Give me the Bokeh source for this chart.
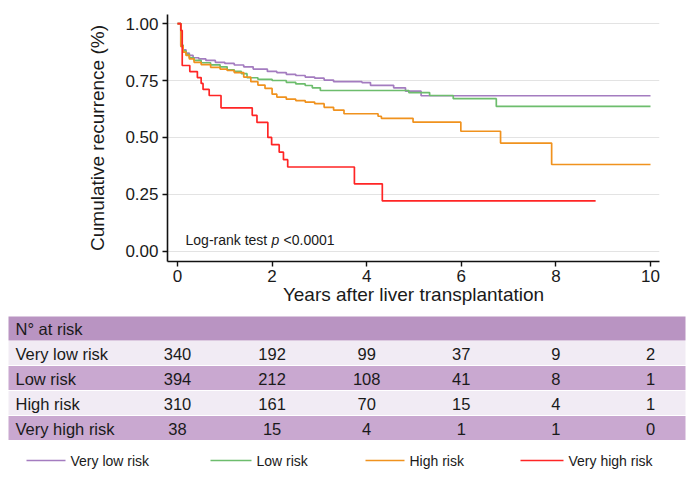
from bokeh.plotting import figure
from bokeh.models import Range1d, FixedTicker, NumeralTickFormatter
from bokeh.embed import file_html
from bokeh.resources import INLINE
from bokeh.core.properties import value

# ---------------- data ----------------
groups = ["Very low risk", "Low risk", "High risk", "Very high risk"]

vlow_t = [0, 0.07, 0.12, 0.18, 0.25, 0.33, 0.45, 0.6, 0.8, 1.0, 1.2, 1.4, 1.6, 1.9, 2.1, 2.3,
          2.5, 2.7, 2.9, 3.1, 3.3, 3.9, 4.08, 4.57, 4.82, 5.15, 10]
vlow_s = [1.0, 0.90, 0.885, 0.87, 0.86, 0.85, 0.845, 0.838, 0.83, 0.825, 0.818, 0.81, 0.80, 0.79,
          0.785, 0.777, 0.772, 0.765, 0.76, 0.752, 0.745, 0.741, 0.729, 0.718, 0.703, 0.683, 0.683]

low_t = [0, 0.07, 0.12, 0.18, 0.25, 0.35, 0.5, 0.7, 0.9, 1.05, 1.2, 1.35, 1.47, 1.7, 2.0, 2.3,
         2.5, 2.7, 2.85, 3.02, 4.89, 5.33, 5.83, 6.74, 10]
low_s = [1.0, 0.905, 0.88, 0.865, 0.85, 0.838, 0.828, 0.819, 0.81, 0.797, 0.79, 0.78, 0.762, 0.755,
         0.75, 0.742, 0.735, 0.728, 0.718, 0.706, 0.697, 0.684, 0.670, 0.636, 0.636]

high_t = [0, 0.07, 0.12, 0.18, 0.25, 0.35, 0.5, 0.7, 0.9, 1.05, 1.2, 1.4, 1.55, 1.7, 1.85, 2.0,
          2.1, 2.3, 2.5, 2.7, 2.9, 3.1, 3.3, 3.52, 4.24, 4.31, 4.98, 5.99, 6.83, 7.91, 10]
high_s = [1.0, 0.90, 0.875, 0.86, 0.845, 0.83, 0.82, 0.808, 0.80, 0.794, 0.785, 0.765, 0.745, 0.73,
          0.715, 0.69, 0.677, 0.668, 0.662, 0.655, 0.648, 0.632, 0.62, 0.604, 0.593, 0.584, 0.567,
          0.527, 0.475, 0.381, 0.381]

vhigh_t = [0, 0.07, 0.1, 0.26, 0.42, 0.5, 0.54, 0.67, 0.92, 1.58, 1.68, 1.91, 1.99, 2.15, 2.24,
           2.33, 3.74, 4.33, 8.84]
vhigh_s = [1.0, 0.97, 0.816, 0.789, 0.763, 0.737, 0.711, 0.684, 0.63, 0.597, 0.566, 0.50, 0.468,
           0.435, 0.402, 0.37, 0.296, 0.221, 0.221]

risk_times = [0, 2, 4, 6, 8, 10]
at_risk_vlow = [340, 192, 99, 37, 9, 2]
at_risk_low = [394, 212, 108, 41, 8, 1]
at_risk_high = [310, 161, 70, 15, 4, 1]
at_risk_vhigh = [38, 15, 4, 1, 1, 0]

x_ticks = [0, 2, 4, 6, 8, 10]
y_ticks = [0, 0.25, 0.5, 0.75, 1.0]

# ---------------- styles / layout ----------------
COLORS = ["#a47cc0", "#6dbd6d", "#f0921e", "#ff2525"]
FONT = "Liberation Sans"
TXT = "#1a1a1a"

curves = [(vlow_t, vlow_s), (low_t, low_s), (high_t, high_s), (vhigh_t, vhigh_s)]
at_risk = [at_risk_vlow, at_risk_low, at_risk_high, at_risk_vhigh]

W = 700
H1 = 312                      # KM plot height
H2 = 479 - H1                 # table + legend height
FL, FR, FT, FB = 167, 659, 14, 261          # frame edges in page pixels
PX_PER_YEAR = 47.3
PX_PER_UNIT = 227.6
X_ZERO = 177                                 # page x of year 0
X0 = -(X_ZERO - FL) / PX_PER_YEAR
Y0 = -(FB - 250.7) / PX_PER_UNIT

p = figure(width=W, height=H1, output_backend="svg", toolbar_location=None,
           x_range=Range1d(X0, X0 + (FR - FL) / PX_PER_YEAR),
           y_range=Range1d(Y0, Y0 + (FB - FT) / PX_PER_UNIT),
           min_border_left=FL, min_border_right=W - FR, min_border_top=FT,
           min_border_bottom=H1 - FB)
p.outline_line_color = None
p.xgrid.visible = False
p.ygrid.grid_line_color = "#e3e3e3"
p.ygrid.grid_line_width = 1

p.xaxis.ticker = FixedTicker(ticks=x_ticks)
p.yaxis.ticker = FixedTicker(ticks=y_ticks)
p.yaxis.formatter = NumeralTickFormatter(format="0.00")
for ax in (p.xaxis, p.yaxis):
    ax.axis_line_color = "#111111"
    ax.axis_line_width = 1.6
    ax.major_tick_line_color = "#111111"
    ax.major_tick_line_width = 1.4
    ax.major_tick_out = 5
    ax.major_tick_in = 0
    ax.minor_tick_line_color = None
    ax.major_label_text_font = FONT
    ax.major_label_text_font_size = "17px"
    ax.major_label_text_color = TXT
    ax.axis_label_text_font = FONT
    ax.axis_label_text_font_size = "19px"
    ax.axis_label_text_font_style = "normal"
    ax.axis_label_text_color = TXT
p.xaxis.axis_label = "Years after liver transplantation"
p.yaxis.axis_label = "Cumulative recurrence (%)"
p.xaxis.major_label_standoff = 3
p.xaxis.axis_label_standoff = -1
p.yaxis.major_label_standoff = 4
p.yaxis.axis_label_standoff = 14

for (t, s), c in zip(curves, COLORS):
    p.step(t, s, mode="after", line_color=c, line_width=1.7)

p.text(x=[0.17], y=[0.051], text=["Log-rank test"], text_font=value(FONT),
       text_font_size="14px", text_baseline="middle", text_align="left", text_color=TXT)
p.text(x=[0.17], y=[0.051], text=["p"], x_offset=86, text_font=value(FONT),
       text_font_style="italic", text_font_size="14px", text_baseline="middle",
       text_align="left", text_color=TXT)
p.text(x=[0.17], y=[0.051], text=["<0.0001"], x_offset=98, text_font=value(FONT),
       text_font_size="14px", text_baseline="middle", text_align="left", text_color=TXT)

# ---------------- at-risk table + legend (second figure, same year scale) ----------------
t = figure(width=W, height=H2, output_backend="svg", toolbar_location=None,
           x_range=Range1d((0 - X_ZERO) / PX_PER_YEAR, (W - X_ZERO) / PX_PER_YEAR),
           y_range=Range1d(479, H1),
           min_border_left=0, min_border_right=0, min_border_top=0, min_border_bottom=0)
t.extra_x_ranges = {"px": Range1d(0, W)}     # page-pixel helper range for decorations
t.axis.visible = False
t.grid.visible = False
t.outline_line_color = None

T_LEFT, T_RIGHT = 8, 685
TFS = "16.5px"
t.quad(left=[T_LEFT], right=[T_RIGHT], top=[316], bottom=[340], x_range_name="px",
       fill_color="#b994c2", line_color=None)
t.text(x=[15], y=[328], text=["N° at risk"], x_range_name="px", text_font=value(FONT),
       text_font_size=TFS, text_baseline="middle", text_color=TXT)

row_fill = ["#f1ebf4", "#c9a8d0", "#f1ebf4", "#c9a8d0"]
for i, (g, vals) in enumerate(zip(groups, at_risk)):
    top = 340 + 25 * i
    t.quad(left=[T_LEFT], right=[T_RIGHT], top=[top + 0.5], bottom=[top + 25 - 0.5],
           x_range_name="px", fill_color=row_fill[i], line_color=None)
    yc = top + 13
    t.text(x=[15], y=[yc], text=[g], x_range_name="px", text_font=value(FONT),
           text_font_size=TFS, text_baseline="middle", text_color=TXT)
    t.text(x=risk_times, y=[yc] * len(vals), text=[str(v) for v in vals],
           text_font=value(FONT), text_font_size=TFS, text_baseline="middle",
           text_align="center", text_color=TXT)

LEG_Y = 460
leg_line = [(26, 65), (210, 251), (365, 404), (520, 563)]
for (a, b), g, c in zip(leg_line, groups, COLORS):
    t.segment(x0=[a], y0=[LEG_Y], x1=[b], y1=[LEG_Y], x_range_name="px",
              line_color=c, line_width=1.7)
    t.text(x=[b + 5], y=[LEG_Y], text=[g], x_range_name="px", text_font=value(FONT),
           text_font_size="14px", text_baseline="middle", text_color=TXT)

open("out.html", "w").write(file_html([p, t], INLINE))
